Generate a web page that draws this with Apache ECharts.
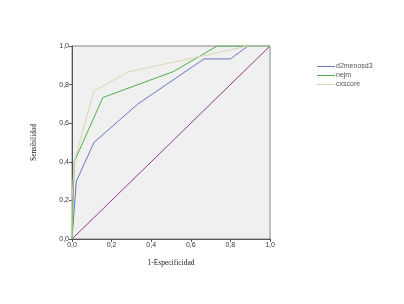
<!DOCTYPE html>
<html>
<head>
<meta charset="utf-8">
<script src="https://cdn.jsdelivr.net/npm/echarts@6/dist/echarts.min.js"></script>
<style>
  html, body { margin: 0; padding: 0; background: #fff; }
  #chart { width: 404px; height: 304px; }
</style>
</head>
<body>
<div id="chart"></div>
<script>
// ROC curves (1-especificidad, sensibilidad)
var seriesNames = ['d2menosd3', 'nejm', 'cxscore'];
var d2menosd3 = [[0, 0], [0.022, 0.3], [0.111, 0.5], [0.333, 0.7], [0.667, 0.933], [0.8, 0.933], [0.889, 1], [1, 1]];
var nejm = [[0, 0], [0.011, 0.4], [0.156, 0.733], [0.511, 0.867], [0.733, 1], [1, 1]];
var cxscore = [[0, 0], [0, 0.2], [0.011, 0.4], [0.111, 0.767], [0.289, 0.867], [0.889, 1], [1, 1]];
var diagonal = [[0, 0], [0.5, 0.5], [1, 1]];

var chart = echarts.init(document.getElementById('chart'));

function fmt(v) {
  return v.toFixed(1).replace('.', ',');
}

var axisCommon = {
  type: 'value',
  min: 0,
  max: 1,
  interval: 0.2,
  axisLine: { show: true, lineStyle: { color: '#555', width: 1 } },
  axisTick: { show: true, length: 3, lineStyle: { color: '#555' } },
  splitLine: { show: false },
  axisLabel: {
    color: '#333',
    fontSize: 7,
    margin: 3,
    fontFamily: 'Liberation Sans, Arial',
    formatter: function (v) { return fmt(v); }
  },
  nameTextStyle: { color: '#222', fontSize: 7.5, fontFamily: 'Liberation Serif, Times New Roman' }
};

var option = {
  animation: false,
  backgroundColor: '#fff',
  grid: {
    left: 72, right: 134, top: 46, bottom: 65,
    show: true,
    backgroundColor: '#f0f0f0',
    borderColor: '#888',
    borderWidth: 1
  },
  legend: {
    data: seriesNames,
    orient: 'vertical',
    left: 312,
    top: 58,
    icon: 'rect',
    itemWidth: 18,
    itemHeight: 1,
    itemGap: 2,
    textStyle: { color: '#555', fontSize: 7, fontFamily: 'Liberation Sans, Arial', padding: [0, 0, 0, -4] }
  },
  xAxis: Object.assign({}, axisCommon, {
    name: '1-Especificidad',
    nameLocation: 'middle',
    nameGap: 20
  }),
  yAxis: Object.assign({}, axisCommon, {
    name: 'Sensibilidad',
    nameLocation: 'middle',
    nameGap: 34
  }),
  series: [
    {
      name: 'diagonal', type: 'line', data: diagonal, symbol: 'none',
      itemStyle: { color: '#8b3d8b' },
      lineStyle: { color: '#8b3d8b', width: 1 }, silent: true
    },
    {
      name: 'd2menosd3', type: 'line', data: d2menosd3, symbol: 'none',
      itemStyle: { color: '#6678c0' },
      lineStyle: { color: '#6678c0', width: 1 }
    },
    {
      name: 'nejm', type: 'line', data: nejm, symbol: 'none',
      itemStyle: { color: '#4cb14c' },
      lineStyle: { color: '#4cb14c', width: 1 }
    },
    {
      name: 'cxscore', type: 'line', data: cxscore, symbol: 'none',
      itemStyle: { color: '#d9d6b4' },
      lineStyle: { color: '#d9d6b4', width: 1 }
    }
  ]
};

chart.setOption(option);
</script>
</body>
</html>
